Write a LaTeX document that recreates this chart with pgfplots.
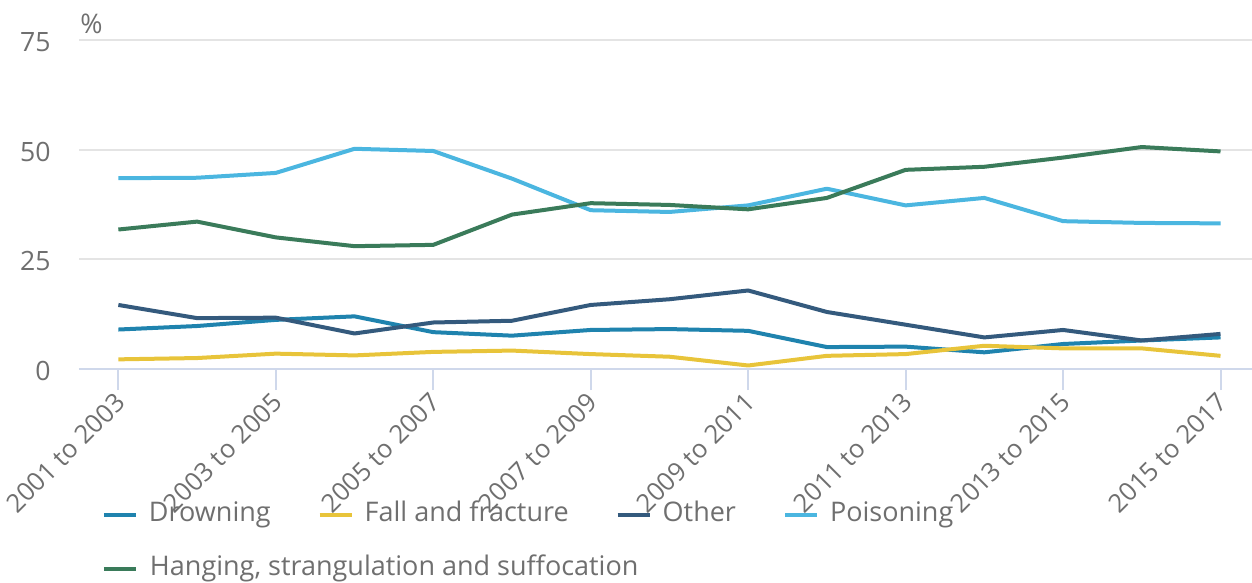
\documentclass[border=0pt]{standalone}
\usepackage{fontspec}
\setmainfont{Open Sans}
\usepackage{pgfplots}
\pgfplotsset{compat=1.18}
\definecolor{cDrown}{HTML}{1F83AE}
\definecolor{cFall}{HTML}{E8C43A}
\definecolor{cOther}{HTML}{345A7D}
\definecolor{cPois}{HTML}{4BB6E0}
\definecolor{cHang}{HTML}{3A7B5A}
\definecolor{cText}{HTML}{6F6F6F}
\definecolor{cGrid}{HTML}{E4E4E4}
\definecolor{cAxis}{HTML}{CFD8EB}
\begin{document}
\begin{tikzpicture}
\begin{axis}[
  scale only axis,
  width=586.5pt, height=164.5pt,
  xmin=-0.5, xmax=14.4,
  ymin=0, ymax=75,
  axis x line*=bottom,
  axis y line*=left,
  x axis line style={draw=cAxis, line width=1pt, -},
  y axis line style={draw=none},
  xtick={0,2,...,14},
  xticklabels={2001 to 2003,2003 to 2005,2005 to 2007,2007 to 2009,2009 to 2011,2011 to 2013,2013 to 2015,2015 to 2017},
  ytick={0,25,50,75},
  tick align=outside,
  major tick length=10.5pt,
  xtick style={draw=cAxis, line width=1pt},
  ytick style={draw=none},
  ymajorgrids,
  grid style={draw=cGrid, line width=1pt},
  /pgf/number format/assume math mode=true,
  tick label style={font=\fontsize{13.3}{15}\selectfont, text=cText},
  xticklabel style={font=\fontsize{12.8}{15}\selectfont, xshift=2.5pt, yshift=-2.5pt, rotate=45, anchor=east, inner sep=2pt},
  yticklabel style={anchor=east, inner sep=0pt, xshift=-3.5pt, yshift=-1pt},
  legend columns=4,
  legend cell align=left,
  legend image code/.code={\draw[#1, line width=2pt] (0pt,0pt) -- (16pt,0pt);},
  legend style={at={(rel axis cs:0,0)}, anchor=north west, xshift=11.5pt, yshift=-66.5pt,
    draw=none, fill=none, inner sep=0pt, outer sep=0pt,
    font=\fontsize{13.5}{15}\selectfont, text=cText,
    row sep=14.5pt,
    /tikz/every odd column/.append style={column sep=5.5pt},
    /tikz/every even column/.append style={column sep=23.5pt},
    nodes={inner sep=0pt, text height=9.5pt, text depth=3.2pt}},
  clip=false,
]
\addplot[draw=cDrown, line width=2pt, line join=round] coordinates {
 (0,9.0) (1,9.8) (2,11.2) (3,12.0) (4,8.4) (5,7.6) (6,8.9) (7,9.1) (8,8.7) (9,5.0) (10,5.1) (11,3.8) (12,5.7) (13,6.5) (14,7.2)};
\addlegendentry{Drowning}
\addplot[draw=cFall, line width=2pt, line join=round] coordinates {
 (0,2.2) (1,2.5) (2,3.5) (3,3.1) (4,3.9) (5,4.2) (6,3.4) (7,2.8) (8,0.8) (9,3.0) (10,3.4) (11,5.3) (12,4.7) (13,4.7) (14,3.0)};
\addlegendentry{Fall and fracture}
\addplot[draw=cOther, line width=2pt, line join=round] coordinates {
 (0,14.6) (1,11.6) (2,11.7) (3,8.1) (4,10.6) (5,11.0) (6,14.6) (7,15.9) (8,17.9) (9,13.0) (10,10.1) (11,7.2) (12,8.9) (13,6.5) (14,8.0)};
\addlegendentry{Other}
\addplot[draw=cPois, line width=2pt, line join=round] coordinates {
 (0,43.5) (1,43.6) (2,44.7) (3,50.2) (4,49.7) (5,43.4) (6,36.2) (7,35.8) (8,37.3) (9,41.1) (10,37.3) (11,39.0) (12,33.7) (13,33.3) (14,33.2)};
\addlegendentry{Poisoning}
\addplot[draw=cHang, line width=2pt, line join=round] coordinates {
 (0,31.8) (1,33.6) (2,30.0) (3,28.0) (4,28.3) (5,35.2) (6,37.8) (7,37.4) (8,36.4) (9,39.0) (10,45.4) (11,46.1) (12,48.2) (13,50.6) (14,49.6)};
\addlegendentry{\rlap{Hanging, strangulation and suffocation}}
\node[anchor=base west, inner sep=0pt, font=\fontsize{13.5}{15}\selectfont, text=cText] at ([xshift=0.5pt,yshift=3.5pt]rel axis cs:0,1) {\%};
\coordinate (O) at (rel axis cs:0,0);
\coordinate (T) at (rel axis cs:1,1);
\end{axis}
\pgfresetboundingbox
\useasboundingbox ([xshift=-39.5pt,yshift=-107pt]O) rectangle ([yshift=20pt]T);
\end{tikzpicture}
\end{document}
